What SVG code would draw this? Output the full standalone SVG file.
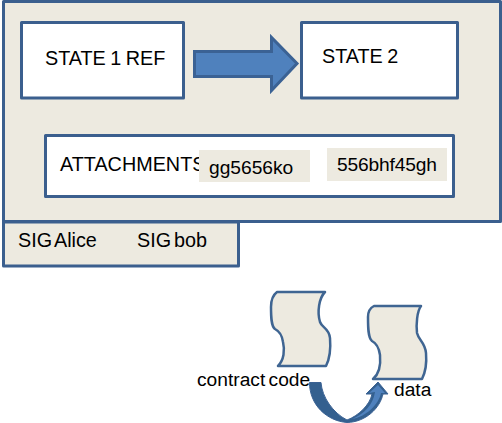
<svg xmlns="http://www.w3.org/2000/svg" width="502" height="423" viewBox="0 0 502 423">
<style>
.box{stroke:#3b5f8e;stroke-width:3;stroke-linejoin:round}
.beige{fill:#edeae0}
.white{fill:#fff}
.scroll{fill:#edeae0;stroke:#3f6592;stroke-width:2.500;stroke-linejoin:round}
text{font-family:"Liberation Sans",Arial,sans-serif;font-size:19.800px;word-spacing:-2.500px;fill:#000}
.state{word-spacing:-1px}
.low{font-size:19.200px;word-spacing:-2px}
</style>
<g id="outer"><rect class="box beige" x="3.500" y="1.500" width="497" height="220"/></g>
<g id="state1"><rect class="box white" x="21.500" y="22.500" width="162" height="75.500"/><text class="state" x="45" y="65">STATE 1 REF</text></g>
<g id="state2"><rect class="box white" x="301.500" y="22.500" width="156" height="75.500"/><text class="state" x="322" y="63">STATE 2</text></g>
<g id="attachments"><rect class="box white" x="45.500" y="135.500" width="408" height="61"/><text x="60" y="171">ATTACHMENTS</text>
<g id="att1"><rect class="beige" x="199" y="150" width="111" height="32"/><text class="low" x="209" y="174">gg5656ko</text></g>
<g id="att2"><rect class="beige" x="327" y="148" width="120" height="33"/><text class="low" x="337" y="171" textLength="100" lengthAdjust="spacing">556bhf45gh</text></g></g>
<g id="sig"><rect class="box beige" x="3.500" y="222" width="235" height="44"/><text x="18" y="247">SIG Alice</text><text x="137" y="247">SIG bob</text></g>
<g id="contract"><path class="scroll" d="M277 292H325C319 298 317 312 320 322C322 328 329 328 330 338C331 350 329 360 326 366H278C284 360 285 350 283 342C282 335 279 331 275 329C271 326 271 316 271 307C271 300 273 295 277 292Z"/><text class="low" x="197" y="386">contract code</text></g>
<g id="data"><path class="scroll" d="M374 306H421C417 311 416 325 417 333C419 341 425 342 426 353C427 365 425 373 422 379H373C379 374 381 366 380 355C379 348 376 343 372 341C368 338 368 327 368 317C368 312 370 308 374 306Z"/><text class="low" x="394" y="396">data</text></g>
<g id="connectors">
<path d="M194.500 51.500H271.500V37.500L297 63.500L271.500 90.500V76.500H194.500Z" fill="#4f81bd" stroke="#3b6294" stroke-width="3"/>
<path d="M309.500 382.500H321C322 397 333 413 347 420C358 416 370 405 372 394H366L378 382L388 394H383C380 408 366 422 347 422.500C327 421 309.500 405 309.500 382.500Z" fill="#34608f" stroke="#3b6294"/>
<path d="M352 419C364 414 373 405 375 392L369 393L378 385L385 393H381C379 404 366 417 352 419Z" fill="#4f81bd"/>
</g>
</svg>
